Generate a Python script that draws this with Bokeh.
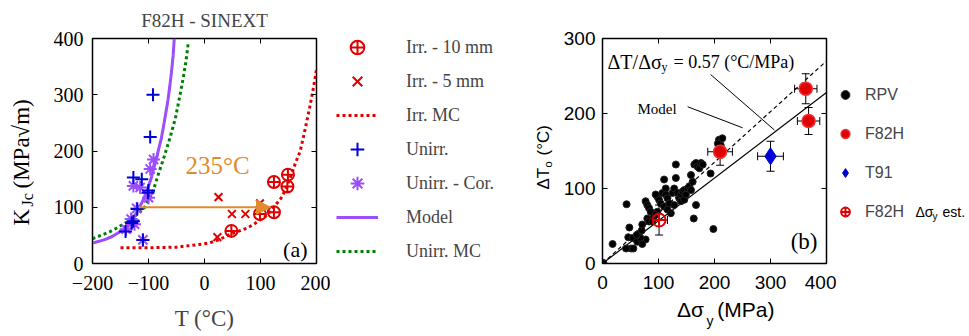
import math
from bokeh.plotting import figure
from bokeh.models import (ColumnDataSource, Legend, LegendItem, Label, Arrow, NormalHead,
                          FixedTicker, LinearAxis, Whisker, TeeHead, Range1d,
                          CustomLabelingPolicy)
from bokeh.layouts import row
from bokeh.embed import file_html
from bokeh.resources import INLINE

# ---------------- Panel (a): F82H - SINEXT ----------------
irr10_T = [48, 99, 124, 124, 149, 148]
irr10_K = [58, 88, 91, 145, 158, 137]
irr5_T = [23, 25, 49, 73, 99]
irr5_K = [47, 118, 88, 88, 107]
unirr_T = [-92, -97, -127, -112, -101, -100, -120, -127, -130, -141, -110]
unirr_K = [300, 225, 153, 150, 126, 130, 97, 75, 72, 57, 42]
cor_T = [-91, -97, -127, -115, -100, -121, -131, -125, -140, -110]
cor_K = [185, 168, 138, 135, 117, 98, 79, 70, 61, 42]
model_T = [-201, -190, -177, -165, -153, -144, -136, -128, -121, -115, -109, -104, -100,
           -95, -91, -86, -82, -77, -73, -69, -65, -62, -59, -56, -54]
model_K = [36, 39, 43, 48, 55, 62, 70, 79, 91, 102, 114, 126, 138,
           152, 168, 185, 203, 223, 245, 268, 292, 315, 340, 370, 400]
irrmc_T = [-150, -100, -50, -25, 0, 10, 25, 40, 46, 60, 76, 90, 100, 112, 121, 136,
           145, 154, 163, 171, 180, 189, 195, 200]
irrmc_K = [28, 28, 29, 32, 35, 37, 42, 49, 52, 57, 63, 71, 78, 86, 97, 115,
           132, 155, 180, 200, 240, 283, 315, 345]
unirrmc_T = [-200, -185, -170, -155, -138, -122, -108, -100, -92, -82, -72, -62, -52,
             -44, -38, -33, -29]
unirrmc_K = [44, 50, 56, 64, 74, 86, 98, 113, 128, 160, 190, 222, 258,
             298, 330, 360, 392]
shift_T0 = -117
shift_K = 100
shift_value = 235
a_xticks = [-200, -100, 0, 100, 200]
a_yticks = [0, 100, 200, 300, 400]
a_legend = ["Irr. - 10 mm", "Irr. - 5 mm", "Irr. MC", "Unirr.", "Unirr. - Cor.", "Model",
            "Unirr. MC"]

# ---------------- Panel (b) ----------------
rpv_x = [0, 1, 2, 18, 43, 48, 46, 54, 51, 42, 55, 62, 65, 70, 71, 77, 68, 61, 71,
         77, 80, 83, 86, 80, 83, 89, 92, 98, 101, 104, 98, 95, 95, 107, 113, 116, 110,
         116, 119, 122, 125, 128, 128, 131, 134, 137, 131, 140, 140, 143, 146, 146, 149,
         152, 155, 158, 158, 161, 164, 167, 170, 173, 176, 179, 167, 163, 193, 198,
         208, 211, 214, 213, 206, 212, 110, 113]
rpv_y = [0, 1, 0, 26, 79, 48, 35, 34, 20, 20, 20, 29, 40, 44, 52, 32, 34, 38, 26,
         83, 78, 74, 69, 60, 56, 56, 63, 89, 85, 80, 69, 65, 92, 94, 92, 87, 76,
         72, 80, 67, 94, 100, 78, 114, 94, 87, 132, 92, 83, 96, 98, 85, 92,
         100, 103, 98, 118, 109, 132, 134, 129, 127, 134, 132, 78, 60, 120, 46,
         165, 158, 167, 153, 160, 145, 112, 100]
f82h_x = [210, 363, 368]
f82h_y = [149, 233, 190]
f82h_xerr = [22, 20, 20]
f82h_yerr = [18, 20, 18]
t91_x = [300]
t91_y = [143]
t91_xerr = [23]
t91_yerr = [20]
est_x = [101]
est_y = [58]
est_xerr = [15]
est_yerr = [20]
line_x = [0, 400]
model_line_y = [0, 270]   # dashed "Model"
fit_line_y = [0, 228]     # solid, dT/dsigma = 0.57
ptr_x0 = [193, 152]
ptr_y0 = [252, 209]
ptr_x1 = [307, 250]
ptr_y1 = [178, 181]
b_xticks = [0, 100, 200, 300, 400]
b_yticks = [0, 100, 200, 300]
b_legend = ["RPV", "F82H", "T91", "F82H"]

RED = "#e00000"
BLUE = "#0000d8"
PURPLE = "#9b4dff"
GREEN = "#008000"
ORANGE = "#e38b2c"
SERIF = "Liberation Serif"
SANS = "Liberation Sans"
NAN = float("nan")

TOP, FRAME_H, BOTTOM = 36, 225, 75

NO_LABELS_JS = """
try {
  const ids = Array.from(indices);
  if (typeof indices.unset === "function") { for (const i of ids) indices.unset(i); return indices; }
  if (typeof indices.set === "function") { for (const i of ids) indices.set(i, false); return indices; }
  if (typeof indices.delete === "function") { for (const i of ids) indices.delete(i); return indices; }
} catch (e) {}
return indices;
"""


def hidden_axis(ticks):
    return LinearAxis(ticker=FixedTicker(ticks=ticks), major_tick_in=5, major_tick_out=0,
                      minor_tick_line_color=None, axis_line_color=None,
                      major_label_policy=CustomLabelingPolicy(code=NO_LABELS_JS),
                      major_label_text_font_size="0px", major_label_standoff=0)


def style_axes(p, xt, yt, font, size, xstand, ystand):
    bx, ly = p.below[0], p.left[0]
    bx.ticker = FixedTicker(ticks=xt)
    ly.ticker = FixedTicker(ticks=yt)
    bx.major_label_standoff = xstand
    ly.major_label_standoff = ystand
    for ax in (bx, ly):
        ax.major_tick_in = 5
        ax.major_tick_out = 0
        ax.minor_tick_line_color = None
        ax.axis_line_color = "black"
        ax.major_label_text_font = font
        ax.major_label_text_font_size = size
        ax.major_label_text_color = "black"
    p.add_layout(hidden_axis(xt), "above")
    p.add_layout(hidden_axis(yt), "right")
    p.grid.visible = False
    p.outline_line_color = "black"
    p.outline_line_width = 1.5


def lab(p, x, y, text, font, size, color="black", align="left", baseline="middle",
        angle=0.0, units="screen"):
    p.add_layout(Label(x=x, y=y, x_units=units, y_units=units, text=text,
                       text_font=font, text_font_size=size, text_color=color,
                       text_align=align, text_baseline=baseline, angle=angle))


def text_fig(w):
    f = figure(frame_width=w, frame_height=FRAME_H, min_border_left=0, min_border_right=0,
               min_border_top=TOP, min_border_bottom=BOTTOM,
               x_axis_type=None, y_axis_type=None,
               x_range=Range1d(0, 1), y_range=Range1d(0, 1),
               output_backend="svg", toolbar_location=None, tools="")
    f.outline_line_color = None
    f.title.visible = False
    return f


# marker / line styles shared by the plots and their legend keys
S_IRR10 = dict(marker="circle_cross", size=12, line_color=RED, fill_alpha=0.0, line_width=2)
S_IRR5 = dict(marker="x", size=11, line_color=RED, line_width=2)
S_IRRMC = dict(line_color=RED, line_width=3, line_dash="3 3")
S_UNIRR = dict(marker="cross", size=13, line_color=BLUE, line_width=2)
S_COR = dict(marker="asterisk", size=13, line_color=PURPLE, line_width=2)
S_MODEL = dict(line_color=PURPLE, line_width=3)
S_UNIRRMC = dict(line_color=GREEN, line_width=3, line_dash="3 3")
S_RPV = dict(marker="circle", size=7, fill_color="black", line_color="#222222", line_width=1)
S_F82H = dict(marker="circle", size=13, fill_color=RED, line_color="#f03030", line_width=1.5)
S_T91 = dict(marker="diamond", size=17, fill_color=BLUE, line_color=BLUE)
S_EST = dict(marker="circle_cross", size=13, fill_alpha=0.0, line_color=RED, line_width=2)

# ================= y label strip for (a) =================
f_ylab1 = text_fig(45)
lab(f_ylab1, 21, 38, "K", SERIF, "23px", angle=math.pi / 2)
lab(f_ylab1, 27, 57, "Jc", SERIF, "16px", angle=math.pi / 2)
lab(f_ylab1, 21, 75, "(MPa√m)", SERIF, "23px", angle=math.pi / 2)

# ================= Figure (a) =================
p1 = figure(frame_width=224, frame_height=FRAME_H, min_border_left=47, min_border_right=14,
            min_border_top=TOP, min_border_bottom=BOTTOM,
            x_range=Range1d(-200, 200), y_range=Range1d(0, 400),
            output_backend="svg", toolbar_location=None, tools="")
style_axes(p1, a_xticks, a_yticks, SERIF, "20px", 12, 9)
p1.below[0].axis_label = "T (°C)"
p1.below[0].axis_label_text_font = SERIF
p1.below[0].axis_label_text_font_size = "23px"
p1.below[0].axis_label_text_font_style = "normal"
p1.below[0].axis_label_standoff = 13
p1.title.text = "F82H - SINEXT"
p1.title.align = "center"
p1.title.text_font = SERIF
p1.title.text_font_size = "19px"
p1.title.text_font_style = "normal"
p1.title.standoff = 15

p1.line(irrmc_T, irrmc_K, **S_IRRMC)
p1.line(unirrmc_T, unirrmc_K, **S_UNIRRMC)
p1.line(model_T, model_K, **S_MODEL)
p1.add_layout(Arrow(x_start=shift_T0, y_start=shift_K, x_end=shift_T0 + shift_value, y_end=shift_K,
                    line_color=ORANGE, line_width=2,
                    end=NormalHead(size=14, fill_color=ORANGE, line_color=ORANGE)))
p1.scatter(cor_T, cor_K, **S_COR)
p1.scatter(unirr_T, unirr_K, **S_UNIRR)
p1.scatter(irr5_T, irr5_K, **S_IRR5)
p1.scatter(irr10_T, irr10_K, **S_IRR10)

lab(p1, -34, 174, f"{shift_value}°C", SERIF, "25px", color=ORANGE, units="data")
lab(p1, 215, 14, "(a)", SERIF, "22px", align="right")

# ================= legend strip for (a) =================
f_leg1 = text_fig(200)
k1 = [f_leg1.scatter([NAN], [NAN], **S_IRR10),
      f_leg1.scatter([NAN], [NAN], **S_IRR5),
      f_leg1.line([NAN, NAN], [NAN, NAN], **S_IRRMC),
      f_leg1.scatter([NAN], [NAN], **S_UNIRR),
      f_leg1.scatter([NAN], [NAN], **S_COR),
      f_leg1.line([NAN, NAN], [NAN, NAN], **S_MODEL),
      f_leg1.line([NAN, NAN], [NAN, NAN], **S_UNIRRMC)]
leg1 = Legend(items=[LegendItem(label=t, renderers=[r]) for t, r in zip(a_legend, k1)],
              location=(6, -5), padding=0, spacing=0, margin=0, glyph_width=42,
              glyph_height=34, label_height=34, label_standoff=28, border_line_color=None,
              background_fill_alpha=0, label_text_font=SERIF, label_text_font_size="18px")
f_leg1.add_layout(leg1)

# ================= y label strip for (b) =================
f_ylab2 = text_fig(30)
lab(f_ylab2, 13, 74, "ΔT", SANS, "17px", angle=math.pi / 2)
lab(f_ylab2, 17, 96, "o", SANS, "11px", angle=math.pi / 2)
lab(f_ylab2, 13, 108, "(°C)", SANS, "17px", angle=math.pi / 2)

# ================= Figure (b) =================
p2 = figure(frame_width=224, frame_height=FRAME_H, min_border_left=40, min_border_right=10,
            min_border_top=TOP, min_border_bottom=BOTTOM,
            x_range=Range1d(0, 400), y_range=Range1d(0, 300),
            output_backend="svg", toolbar_location=None, tools="")
p2.title.visible = False
style_axes(p2, b_xticks, b_yticks, SANS, "19px", 12, 7)

# composite x-axis title  Δσ_y (MPa) as label-only axes below the tick labels
xlab_main = LinearAxis(ticker=FixedTicker(ticks=[157, 256]),
                       major_label_overrides={157: "Δσ", 256: "(MPa)"},
                       major_label_text_font=SANS, major_label_text_font_size="21px",
                       major_label_text_color="black", major_label_standoff=0,
                       major_tick_line_color=None, minor_tick_line_color=None,
                       axis_line_color=None)
xlab_sub = LinearAxis(ticker=FixedTicker(ticks=[192]),
                      major_label_overrides={192: "y"},
                      major_label_text_font=SANS, major_label_text_font_size="14px",
                      major_label_text_color="black", major_label_standoff=-17,
                      major_tick_line_color=None, minor_tick_line_color=None,
                      axis_line_color=None)
p2.add_layout(xlab_main, "below")
p2.add_layout(xlab_sub, "below")

p2.line(line_x, model_line_y, line_color="black", line_width=1.2, line_dash="4 3")
p2.line(line_x, fit_line_y, line_color="black", line_width=1.2)
p2.segment(ptr_x0, ptr_y0, ptr_x1, ptr_y1, line_color="black", line_width=1)

p2.scatter(rpv_x, rpv_y, **S_RPV)


def errbars(p, xs, ys, xe, ye):
    src = ColumnDataSource(dict(x=xs, y=ys,
                                xl=[a - b for a, b in zip(xs, xe)], xu=[a + b for a, b in zip(xs, xe)],
                                yl=[a - b for a, b in zip(ys, ye)], yu=[a + b for a, b in zip(ys, ye)]))
    for w in (Whisker(base="x", lower="yl", upper="yu", source=src, dimension="height"),
              Whisker(base="y", lower="xl", upper="xu", source=src, dimension="width")):
        w.line_color = "black"
        w.line_width = 1
        w.upper_head = TeeHead(size=8, line_color="black", line_width=1)
        w.lower_head = TeeHead(size=8, line_color="black", line_width=1)
        w.level = "underlay"
        p.add_layout(w)


errbars(p2, f82h_x, f82h_y, f82h_xerr, f82h_yerr)
errbars(p2, t91_x, t91_y, t91_xerr, t91_yerr)
errbars(p2, est_x, est_y, est_xerr, est_yerr)

p2.scatter(f82h_x, f82h_y, **S_F82H)
p2.scatter(t91_x, t91_y, **S_T91)
p2.scatter(est_x, est_y, **S_EST)

lab(p2, 215, 22, "(b)", SERIF, "23px", align="right")
# annotation  ΔT/Δσ_y = 0.57 (°C/MPa)
lab(p2, 5, 202, "ΔT/Δσ", SERIF, "20px")
lab(p2, 59, 197, "y", SERIF, "12px")
lab(p2, 71, 202, "= 0.57 (°C/MPa)", SERIF, "18px")
lab(p2, 35, 155, "Model", SERIF, "15px")

# ================= legend strip for (b) =================
f_leg2 = text_fig(135)
k2 = [f_leg2.scatter([NAN], [NAN], **S_RPV),
      f_leg2.scatter([NAN], [NAN], **S_F82H),
      f_leg2.scatter([NAN], [NAN], **S_T91),
      f_leg2.scatter([NAN], [NAN], **S_EST)]
leg2 = Legend(items=[LegendItem(label=t, renderers=[r]) for t, r in zip(b_legend, k2)],
              location=(-2, 32), padding=0, spacing=0, margin=0, glyph_width=22,
              glyph_height=39, label_height=39, label_standoff=9, border_line_color=None,
              background_fill_alpha=0, label_text_font=SANS, label_text_font_size="16px")
f_leg2.add_layout(leg2)
lab(f_leg2, 79, 52, "Δσ", SANS, "14px")
lab(f_leg2, 96, 47, "y", SANS, "10px")
lab(f_leg2, 106, 52, "est.", SANS, "14px")

layout = row(f_ylab1, p1, f_leg1, f_ylab2, p2, f_leg2)
open("out.html", "w").write(file_html(layout, INLINE))
